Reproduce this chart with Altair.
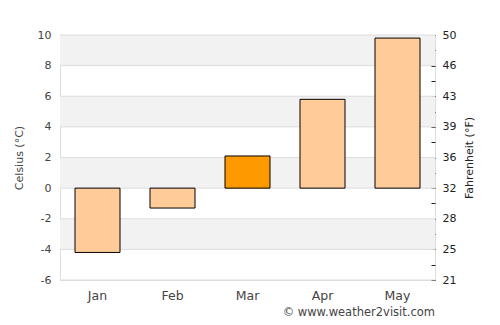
import altair as alt
import pandas as pd

months = ["Jan", "Feb", "Mar", "Apr", "May"]
temps_c = [-4.2, -1.3, 2.1, 5.8, 9.8]
highlight = [False, False, True, False, False]

band_lo = [-4, 0, 4, 8]
band_hi = [-2, 2, 6, 10]
grid_vals = [-6, -4, -2, 0, 2, 4, 6, 8, 10]

W, H = 375, 245
FONT = "DejaVu Sans"

bars_df = pd.DataFrame({"month": months, "temp": temps_c, "hl": highlight})
bands_df = pd.DataFrame({"lo": band_lo, "hi": band_hi})
grid_df = pd.DataFrame({"v": grid_vals})
foot_df = pd.DataFrame({"t": ["© www.weather2visit.com"]})

yscale = alt.Scale(domain=[-6, 10], nice=False, zero=False)

bands = alt.Chart(bands_df).mark_rect(color="#f2f2f2").encode(
    y=alt.Y("lo:Q", scale=yscale,
            axis=alt.Axis(title="Celsius (°C)", values=grid_vals, ticks=False,
                          labelExpr="'' + datum.value",
                          domain=False, grid=False, labelPadding=9,
                          labelColor="#444444", titleColor="#444444",
                          labelFont=FONT, titleFont=FONT, labelFontSize=11,
                          titleFontSize=11, titleFontWeight="normal",
                          titlePadding=13)),
    y2="hi:Q",
    x=alt.value(0),
    x2=alt.value(W),
)

grid = alt.Chart(grid_df).mark_rule(color="#dddddd", strokeWidth=1).encode(
    y=alt.Y("v:Q", scale=yscale, axis=None),
    x=alt.value(0),
    x2=alt.value(W),
)

bars = alt.Chart(bars_df).mark_bar(stroke="black", strokeWidth=1).encode(
    x=alt.X("month:N", sort=months,
            scale=alt.Scale(paddingInner=0.4, paddingOuter=0.2),
            axis=alt.Axis(title=None, ticks=False, domain=False, labelAngle=0,
                          labelPadding=9, labelColor="#444444", labelFont=FONT,
                          labelFontSize=12.5)),
    y=alt.Y("temp:Q", scale=yscale, axis=None),
    y2=alt.datum(0),
    color=alt.Color("hl:N", scale=alt.Scale(domain=[False, True],
                                            range=["#FFCC99", "#FF9900"]),
                    legend=None),
)

right = alt.Chart(grid_df).mark_point(opacity=0).encode(
    y=alt.Y("v:Q", scale=yscale,
            axis=alt.Axis(orient="right", title="Fahrenheit (°F)",
                          values=list(range(-6, 11)),
                          labelExpr="datum.value % 2 == 0 ? format(datum.value*9/5+32, '.0f') : ''",
                          domain=False, grid=False, ticks=True, tickSize=4,
                          tickColor="#222222", offset=-4, labelPadding=7,
                          labelColor="#222222", titleColor="#222222",
                          labelFont=FONT, titleFont=FONT, labelFontSize=11,
                          titleFontSize=11, titleFontWeight="normal",
                          titleAngle=270,
                          labelOverlap=False, titlePadding=19)),
)

footer = alt.Chart(foot_df).mark_text(
    align="right", baseline="middle", font=FONT, fontSize=11.5, color="#444444"
).encode(text="t:N", x=alt.value(W), y=alt.value(278))

chart = alt.layer(bands, grid, bars, right, footer).resolve_axis(
    y="independent"
).properties(
    width=W, height=H,
    autosize=alt.AutoSizeParams(type="none"),
    padding={"left": 60, "top": 35, "right": 65, "bottom": 45},
).configure_view(stroke="#dddddd")

chart.save("out.html", embed_options={"renderer": "svg", "actions": False})
